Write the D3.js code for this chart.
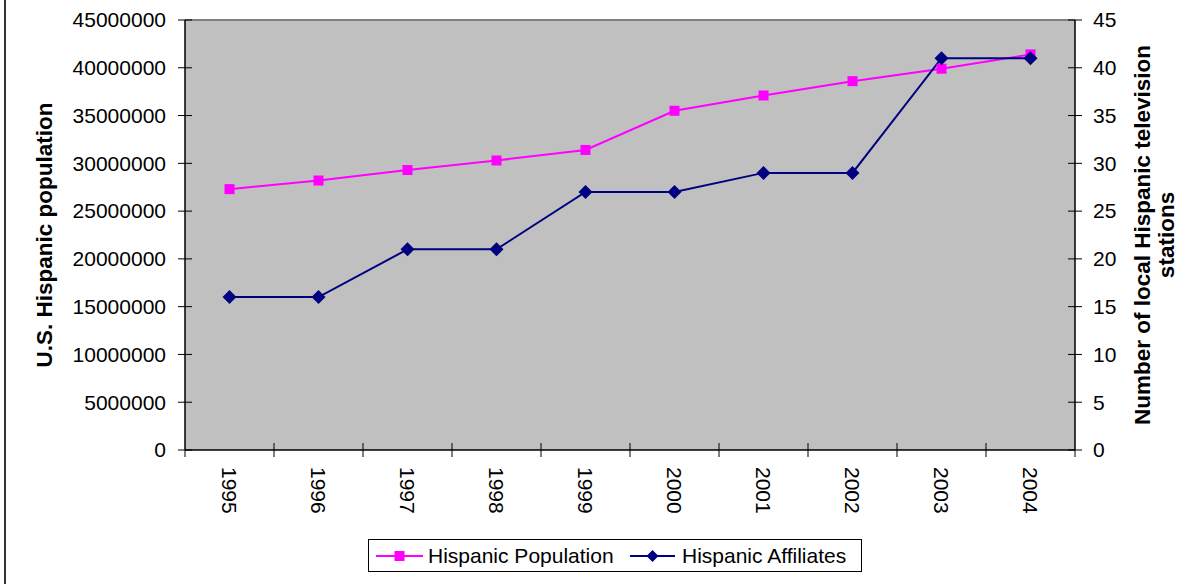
<!DOCTYPE html>
<html>
<head>
<meta charset="utf-8">
<script src="https://cdn.jsdelivr.net/npm/d3@7"></script>
<style>
  html, body { margin: 0; padding: 0; background: #fff; }
  svg { display: block; font-family: "Liberation Sans", Arial, sans-serif; }
</style>
</head>
<body>
<svg id="chart" width="1201" height="584"></svg>
<script>
// Years on the category axis
const years = ["1995", "1996", "1997", "1998", "1999", "2000", "2001", "2002", "2003", "2004"];
// U.S. Hispanic population (left axis)
const population = [27300000, 28200000, 29300000, 30300000, 31400000, 35500000, 37100000, 38600000, 39900000, 41400000];
// Number of local Hispanic television stations (right axis)
const affiliates = [16, 16, 21, 21, 27, 27, 29, 29, 41, 41];
// Tick values for both value axes
const leftTicks = [0, 5000000, 10000000, 15000000, 20000000, 25000000, 30000000, 35000000, 40000000, 45000000];
const rightTicks = [0, 5, 10, 15, 20, 25, 30, 35, 40, 45];
// Series labels
const seriesNames = ["Hispanic Population", "Hispanic Affiliates"];

const svg = d3.select("#chart");
const plot = { left: 185, right: 1075, top: 20, bottom: 450 };

const x = d3.scaleBand().domain(years).range([plot.left, plot.right]);
const yL = d3.scaleLinear().domain([0, 45000000]).range([plot.bottom, plot.top]);
const yR = d3.scaleLinear().domain([0, 45]).range([plot.bottom, plot.top]);

// Outer frame edge on the left
svg.append("line").attr("x1", 5).attr("x2", 5).attr("y1", 0).attr("y2", 584)
  .attr("stroke", "#333").attr("stroke-width", 2);

// Plot area background
svg.append("rect")
  .attr("x", plot.left).attr("y", plot.top)
  .attr("width", plot.right - plot.left).attr("height", plot.bottom - plot.top)
  .attr("fill", "#c0c0c0");
svg.append("line").attr("x1", plot.left).attr("x2", plot.right)
  .attr("y1", plot.top).attr("y2", plot.top).attr("stroke", "#808080").attr("stroke-width", 2);

const fontSize = 21;
const titleSize = 22.5;

// Left value axis
const gL = svg.append("g").attr("transform", `translate(${plot.left},0)`);
gL.append("line").attr("y1", plot.top).attr("y2", plot.bottom).attr("stroke", "#000").attr("stroke-width", 1.5);
gL.selectAll("line.t").data(leftTicks).join("line").attr("class", "t")
  .attr("x1", -7).attr("x2", 7).attr("y1", d => yL(d)).attr("y2", d => yL(d))
  .attr("stroke", "#000").attr("stroke-width", 1);
gL.selectAll("text").data(leftTicks).join("text")
  .attr("x", -19).attr("y", d => yL(d)).attr("dy", "0.35em")
  .attr("text-anchor", "end").attr("font-size", fontSize).attr("fill", "#000")
  .text(d => d3.format("d")(d));

// Right value axis
const gR = svg.append("g").attr("transform", `translate(${plot.right},0)`);
gR.append("line").attr("y1", plot.top).attr("y2", plot.bottom).attr("stroke", "#000").attr("stroke-width", 1.5);
gR.selectAll("line.t").data(rightTicks).join("line").attr("class", "t")
  .attr("x1", -7).attr("x2", 7).attr("y1", d => yR(d)).attr("y2", d => yR(d))
  .attr("stroke", "#000").attr("stroke-width", 1);
gR.selectAll("text").data(rightTicks).join("text")
  .attr("x", 18).attr("y", d => yR(d)).attr("dy", "0.35em")
  .attr("text-anchor", "start").attr("font-size", fontSize).attr("fill", "#000")
  .text(d => d);

// Category axis
const gX = svg.append("g");
gX.append("line").attr("x1", plot.left).attr("x2", plot.right)
  .attr("y1", plot.bottom).attr("y2", plot.bottom).attr("stroke", "#000").attr("stroke-width", 1.5);
const edges = years.map(d => x(d)).concat([plot.right]);
gX.selectAll("line.t").data(edges).join("line").attr("class", "t")
  .attr("x1", d => d).attr("x2", d => d)
  .attr("y1", (d, i) => (i === 0 || i === edges.length - 1) ? plot.bottom : plot.bottom - 7)
  .attr("y2", plot.bottom + 7).attr("stroke", "#000").attr("stroke-width", 1);
gX.selectAll("text").data(years).join("text")
  .attr("transform", d => `translate(${x(d) + x.bandwidth() / 2},467) rotate(90)`)
  .attr("dy", "0.35em").attr("text-anchor", "start")
  .attr("font-size", fontSize).attr("fill", "#000")
  .text(d => d);

// Axis titles
svg.append("text")
  .attr("transform", `translate(52,${(plot.top + plot.bottom) / 2}) rotate(-90)`)
  .attr("text-anchor", "middle").attr("font-size", titleSize).attr("font-weight", "bold")
  .text("U.S. Hispanic population");
const rt = svg.append("text")
  .attr("transform", `translate(1150,${(plot.top + plot.bottom) / 2}) rotate(-90)`)
  .attr("text-anchor", "middle").attr("font-size", titleSize).attr("font-weight", "bold");
rt.append("tspan").attr("x", 0).attr("y", 0).text("Number of local Hispanic television");
rt.append("tspan").attr("x", 0).attr("y", 24).text("stations");

// Series lines and markers
const cx = d => x(d) + x.bandwidth() / 2;
const popLine = d3.line().x((d, i) => cx(years[i])).y(d => yL(d));
const affLine = d3.line().x((d, i) => cx(years[i])).y(d => yR(d));

svg.append("path").datum(population).attr("d", popLine)
  .attr("fill", "none").attr("stroke", "#ff00ff").attr("stroke-width", 2);
svg.append("path").datum(affiliates).attr("d", affLine)
  .attr("fill", "none").attr("stroke", "#000080").attr("stroke-width", 2);

const sq = 10, dm = 7;
svg.selectAll("rect.pop").data(population).join("rect").attr("class", "pop")
  .attr("x", (d, i) => cx(years[i]) - sq / 2).attr("y", d => yL(d) - sq / 2)
  .attr("width", sq).attr("height", sq).attr("fill", "#ff00ff");
const diamond = (px, py) => `M${px},${py - dm}L${px + dm},${py}L${px},${py + dm}L${px - dm},${py}Z`;
svg.selectAll("path.aff").data(affiliates).join("path").attr("class", "aff")
  .attr("d", (d, i) => diamond(cx(years[i]), yR(d))).attr("fill", "#000080");

// Legend
const lg = svg.append("g");
lg.append("rect").attr("x", 368.5).attr("y", 539.5).attr("width", 493).attr("height", 32)
  .attr("fill", "#fff").attr("stroke", "#000").attr("stroke-width", 1);
const ly = 556;
lg.append("line").attr("x1", 376).attr("x2", 423).attr("y1", ly).attr("y2", ly)
  .attr("stroke", "#ff00ff").attr("stroke-width", 2);
lg.append("rect").attr("x", 399.5 - 5).attr("y", ly - 5).attr("width", 10).attr("height", 10).attr("fill", "#ff00ff");
lg.append("text").attr("x", 428).attr("y", ly).attr("dy", "0.35em")
  .attr("font-size", fontSize).text(seriesNames[0]);
lg.append("line").attr("x1", 630).attr("x2", 675).attr("y1", ly).attr("y2", ly)
  .attr("stroke", "#000080").attr("stroke-width", 2);
lg.append("path").attr("d", `M652.5,${ly - 6}L658.5,${ly}L652.5,${ly + 6}L646.5,${ly}Z`).attr("fill", "#000080");
lg.append("text").attr("x", 682).attr("y", ly).attr("dy", "0.35em")
  .attr("font-size", fontSize).text(seriesNames[1]);
</script>
</body>
</html>
